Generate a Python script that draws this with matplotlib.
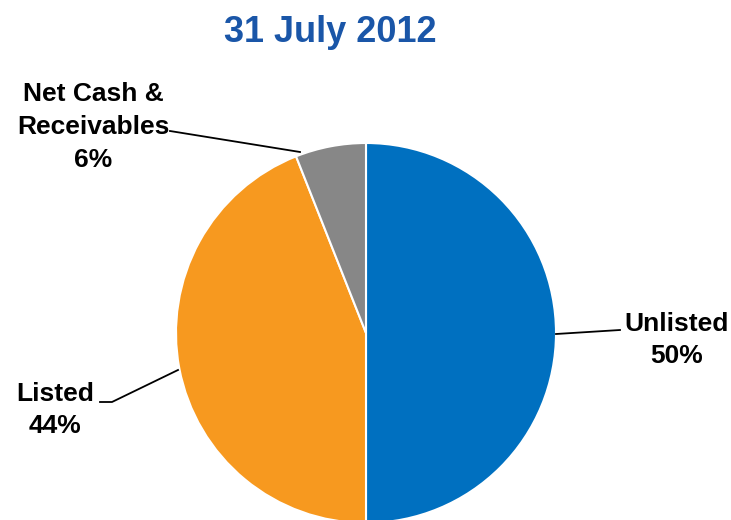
import matplotlib.pyplot as plt
from matplotlib import font_manager

labels = ['Unlisted', 'Listed', 'Net Cash &\nReceivables']
shares = [50, 44, 6]
colors = ['#0070C0', '#F7991F', '#878787']
title = '31 July 2012'

names = {f.name for f in font_manager.fontManager.ttflist}
fam = ['Liberation Sans Narrow', 'Liberation Sans', 'DejaVu Sans']
fam = [f for f in fam if f in names] or ['DejaVu Sans']
plt.rcParams['font.family'] = fam

W, H = 731, 520
fig = plt.figure(figsize=(W / 100, H / 100), dpi=100)
ax = fig.add_axes([0, 0, 1, 1])

# pie in pixel-like coords (y measured up from the bottom)
cx, cy, r = 366, H - 333, 190
wedges, _ = ax.pie(shares, colors=colors, startangle=90, counterclock=False,
                   center=(cx, cy), radius=r, frame=True,
                   wedgeprops=dict(edgecolor='white', linewidth=1.5))
ax.set_xlim(0, W)
ax.set_ylim(0, H)
ax.set_aspect('equal')
ax.axis('off')

ax.text(330, H - 32, title, ha='center', va='center', fontsize=26,
        fontweight='bold', color='#1A56A8')

txt = dict(fontsize=19, fontweight='bold', color='black', ha='center', va='center',
           linespacing=1.45)
lines = [f'{lab}\n{val}%' for lab, val in zip(labels, shares)]

# Unlisted
ax.text(677, H - 340, lines[0], **txt)
ax.plot([556, 620], [H - 334, H - 330], color='black', lw=1.3)
# Listed
ax.text(55, H - 410, lines[1], **txt)
ax.plot([100, 112, 178], [H - 402, H - 402, H - 370], color='black', lw=1.3)
# Net cash
ax.text(93, H - 127, lines[2], **txt)
ax.plot([170, 300], [H - 131, H - 152], color='black', lw=1.3)

fig.savefig('out.png', dpi=100)
